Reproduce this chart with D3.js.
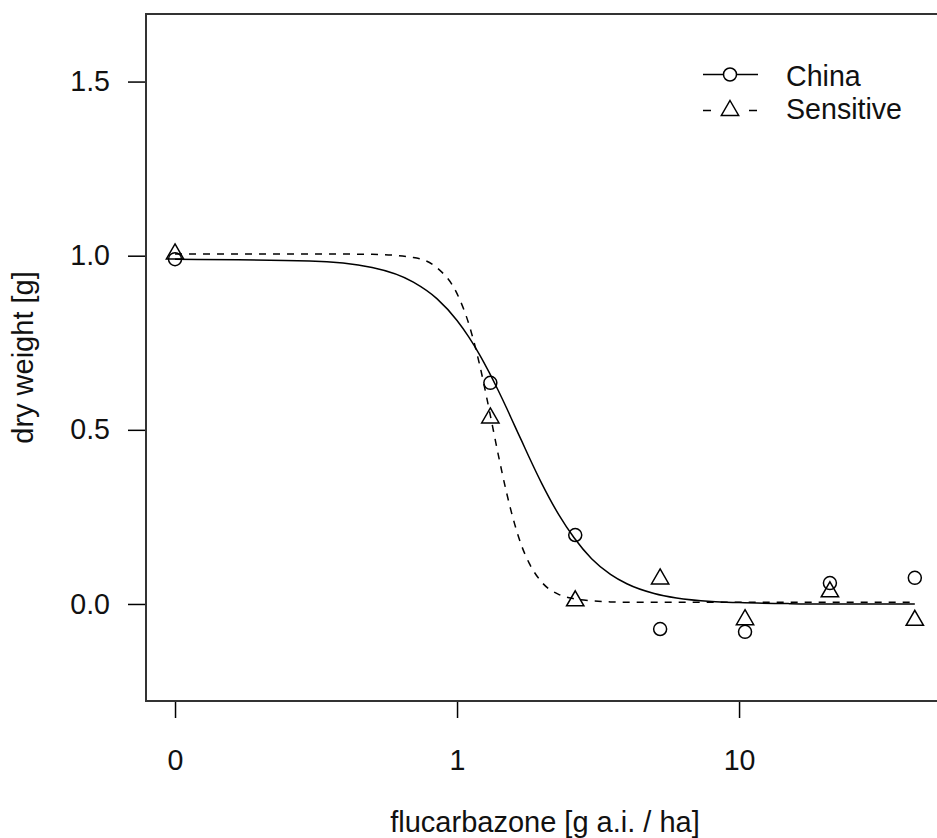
<!DOCTYPE html>
<html>
<head>
<meta charset="utf-8">
<script src="https://cdn.jsdelivr.net/npm/d3@7"></script>
<style>
  body { margin: 0; background: #fff; }
  svg text { font-family: "Liberation Sans", Arial, Helvetica, sans-serif; fill: #111; }
</style>
</head>
<body>
<svg width="937" height="838"></svg>
<script>
// observed dry weights per dose (0 dose is drawn at the break point 0.1)
const doses = [0, 1.3125, 2.625, 5.25, 10.5, 21, 42]
const chinaWeight = [0.99, 0.635, 0.198, -0.072, -0.080, 0.060, 0.075]
const sensitiveWeight = [1.005, 0.534, 0.009, 0.072, -0.045, 0.035, -0.047]

// fitted dose-response curves
const fitDoses = [0, 0.3, 0.5, 0.7, 0.85, 1, 1.1, 1.2, 1.3, 1.4, 1.5, 1.6, 1.7, 1.8, 2, 2.3, 2.6, 3, 3.5, 4, 5, 6, 8, 10, 15, 20, 30, 42]
const chinaFit = [0.990, 0.985, 0.966, 0.924, 0.876, 0.814, 0.767, 0.717, 0.665, 0.613, 0.562, 0.512, 0.466, 0.422, 0.345, 0.255, 0.190, 0.130, 0.085, 0.058, 0.030, 0.017, 0.007, 0.004, 0.001, 0, 0, 0]
const sensitiveFit = [1.005, 1.005, 1.004, 0.995, 0.965, 0.891, 0.805, 0.690, 0.558, 0.429, 0.318, 0.230, 0.164, 0.118, 0.062, 0.027, 0.015, 0.009, 0.006, 0.005, 0.005, 0.005, 0.005, 0.005, 0.005, 0.005, 0.005, 0.005]

const xTicks = [0, 1, 10]
const xTickLabels = ['0', '1', '10']
const yTicks = [0, 0.5, 1.0, 1.5]
const seriesNames = ['China', 'Sensitive']

const zeroPos = 0.1
const fontSize = '28.6px'

const svg = d3.select('svg')
const box = { left: 146, top: 14, right: 944, bottom: 701 }

const x = d3.scaleLog().domain([0.0789, 53.3]).range([box.left, box.right])
const y = d3.scaleLinear().domain([-0.2786, 1.694]).range([box.bottom, box.top])
const xd = d => x(d === 0 ? zeroPos : d)

// y axis
const yAxis = svg.append('g')
  .attr('transform', `translate(${box.left},0)`)
  .call(d3.axisLeft(y).tickValues(yTicks).tickFormat(d3.format('.1f'))
    .tickSize(18).tickPadding(18))
yAxis.select('.domain').remove()
yAxis.selectAll('line').attr('stroke', '#000').attr('stroke-width', 1.5)
yAxis.selectAll('text').style('font-size', fontSize)

// x axis
const xAxis = svg.append('g')
  .attr('transform', `translate(0,${box.bottom})`)
  .call(d3.axisBottom(x).tickValues(xTicks.map(d => d === 0 ? zeroPos : d))
    .tickFormat((d, i) => xTickLabels[i]).tickSize(17).tickPadding(32))
xAxis.select('.domain').remove()
xAxis.selectAll('line').attr('stroke', '#000').attr('stroke-width', 1.5)
xAxis.selectAll('text').style('font-size', fontSize)

// box
svg.append('rect')
  .attr('x', box.left).attr('y', box.top)
  .attr('width', box.right - box.left).attr('height', box.bottom - box.top)
  .attr('fill', 'none').attr('stroke', '#333').attr('stroke-width', 2)

// titles
svg.append('text')
  .attr('x', (box.left + box.right) / 2).attr('y', 832)
  .attr('text-anchor', 'middle').style('font-size', '29px')
  .text('flucarbazone [g a.i. / ha]')

svg.append('text')
  .attr('transform', `translate(33,${(box.top + box.bottom) / 2}) rotate(-90)`)
  .attr('text-anchor', 'middle').style('font-size', '29px')
  .text('dry weight [g]')

// curves
const line = d3.line()
  .x(d => xd(d[0]))
  .y(d => y(d[1]))
  .curve(d3.curveMonotoneX)

svg.append('path')
  .datum(d3.zip(fitDoses, chinaFit))
  .attr('d', line)
  .attr('fill', 'none').attr('stroke', '#000').attr('stroke-width', 1.5)

svg.append('path')
  .datum(d3.zip(fitDoses, sensitiveFit))
  .attr('d', line)
  .attr('fill', 'none').attr('stroke', '#000').attr('stroke-width', 1.5)
  .attr('stroke-dasharray', '7,7')

// points
const tri = (cx, cy) => {
  const r = 10, h = r * 0.866
  return `M${cx},${cy - r}L${cx + h},${cy + r / 2}L${cx - h},${cy + r / 2}Z`
}

svg.append('g').selectAll('circle')
  .data(d3.zip(doses, chinaWeight))
  .enter().append('circle')
  .attr('cx', d => xd(d[0])).attr('cy', d => y(d[1])).attr('r', 6.5)
  .attr('fill', 'none').attr('stroke', '#000').attr('stroke-width', 1.5)

svg.append('g').selectAll('path')
  .data(d3.zip(doses, sensitiveWeight))
  .enter().append('path')
  .attr('d', d => tri(xd(d[0]), y(d[1])))
  .attr('fill', 'none').attr('stroke', '#000').attr('stroke-width', 1.5)

// legend
const legend = svg.append('g')
const rows = [74.5, 110.5]

legend.append('line')
  .attr('x1', 703).attr('x2', 758).attr('y1', rows[0]).attr('y2', rows[0])
  .attr('stroke', '#000').attr('stroke-width', 1.5)
legend.append('circle')
  .attr('cx', 730).attr('cy', rows[0]).attr('r', 6.5)
  .attr('fill', '#fff').attr('stroke', '#000').attr('stroke-width', 1.5)

legend.append('line')
  .attr('x1', 703).attr('x2', 758).attr('y1', rows[1]).attr('y2', rows[1])
  .attr('stroke', '#000').attr('stroke-width', 1.5)
  .attr('stroke-dasharray', '8,38')
legend.append('path')
  .attr('d', tri(730, rows[1]))
  .attr('fill', 'none').attr('stroke', '#000').attr('stroke-width', 1.5)

legend.selectAll('text')
  .data(seriesNames)
  .enter().append('text')
  .attr('x', 786).attr('y', (d, i) => [86, 118.5][i])
  .style('font-size', fontSize)
  .text(d => d)
</script>
</body>
</html>
